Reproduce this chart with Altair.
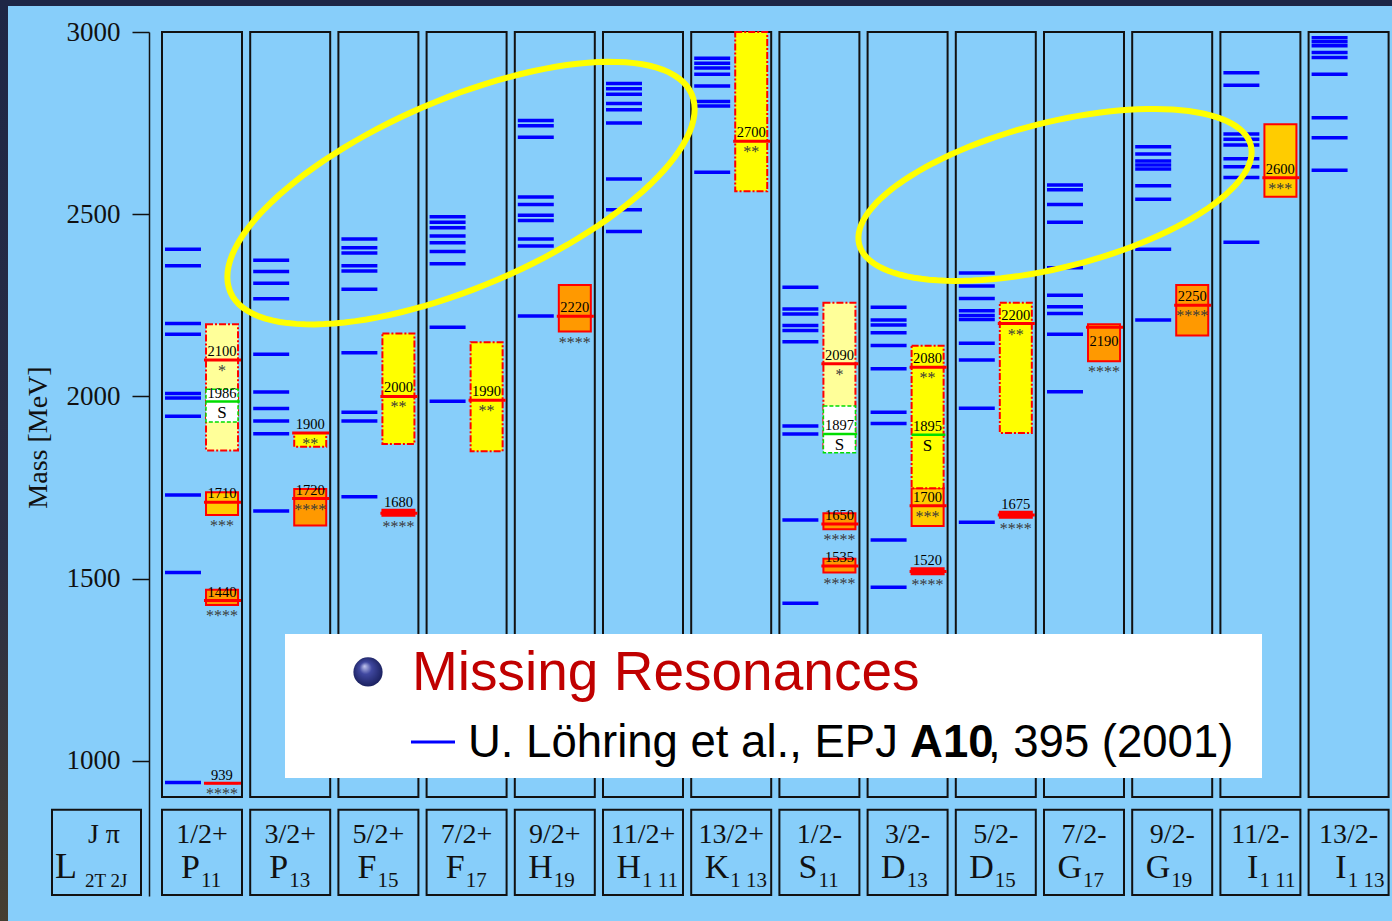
import math
import altair as alt
import pandas as pd

# ---------------------------------------------------------------- data
# Partial waves, one column each
jp_labels = ["1/2+", "3/2+", "5/2+", "7/2+", "9/2+", "11/2+", "13/2+",
             "1/2-", "3/2-", "5/2-", "7/2-", "9/2-", "11/2-", "13/2-"]
wave_letters = ["P", "P", "F", "F", "H", "H", "K", "S", "D", "D", "G", "G", "I", "I"]
wave_subs = ["11", "13", "15", "17", "19", "1 11", "1 13",
             "11", "13", "15", "17", "19", "1 11", "1 13"]

# Quark-model nucleon masses (MeV), one list per partial wave
model_masses = [
    [941, 1517, 1730, 1946, 1996, 2008, 2171, 2200, 2359, 2404],
    [1686, 1898, 1933, 1967, 2012, 2116, 2268, 2311, 2343, 2374],
    [1725, 1933, 1957, 2120, 2294, 2344, 2359, 2394, 2408, 2432],
    [1987, 2190, 2364, 2398, 2422, 2440, 2463, 2478, 2493],
    [2221, 2413, 2432, 2483, 2497, 2527, 2547, 2711, 2743, 2757],
    [2453, 2512, 2597, 2750, 2787, 2804, 2829, 2844, 2859],
    [2615, 2797, 2809, 2852, 2884, 2901, 2914, 2928],
    [1433, 1661, 1897, 1919, 2150, 2181, 2195, 2226, 2240, 2300],
    [1477, 1606, 1926, 1957, 2076, 2140, 2175, 2196, 2210, 2245],
    [1655, 1968, 2100, 2146, 2211, 2222, 2235, 2269, 2303, 2339],
    [2013, 2171, 2228, 2246, 2278, 2353, 2478, 2527, 2567, 2580],
    [2210, 2404, 2541, 2578, 2624, 2635, 2646, 2665, 2685],
    [2423, 2601, 2630, 2652, 2690, 2706, 2720, 2854, 2888],
    [2621, 2710, 2765, 2884, 2930, 2944, 2962, 2973, 2984],
]

# Observed resonances: column, nominal mass, mass range, star rating
pdg_col = [0, 0, 0, 0, 1, 1, 2, 2, 3, 4, 6, 7, 7, 7, 8, 8, 8, 9, 9, 10, 11, 12]
pdg_mass = [939, 1440, 1710, 2100, 1720, 1900, 1680, 2000, 1990, 2220, 2700,
            1535, 1650, 2090, 1520, 1700, 2080, 1675, 2200, 2190, 2250, 2600]
pdg_low = [939, 1428, 1675, 1852, 1646, 1862, 1673, 1870, 1850, 2178, 2563,
           1517, 1636, 1858, 1512, 1645, 1748, 1667, 1900, 2097, 2167, 2548]
pdg_high = [939, 1470, 1737, 2198, 1746, 1900, 1689, 2173, 2149, 2306, 3000,
            1555, 1680, 2257, 1529, 1748, 2139, 1684, 2257, 2198, 2306, 2747]
pdg_stars = [4, 4, 3, 1, 4, 2, 4, 2, 2, 4, 2, 4, 4, 1, 4, 3, 2, 4, 2, 4, 4, 3]

# Signals marked "S"
sig_col = [0, 7, 8]
sig_mass = [1986, 1897, 1895]
sig_low = [1930, 1846, None]
sig_high = [2020, 1974, None]

mass_ticks = [1000, 1500, 2000, 2500, 3000]

# ---------------------------------------------------------------- layout
W, H = 1243, 864
X_DOMAIN = [-0.1474, 13.9456]          # in units of column pitch
Y_DOMAIN = [629.6, 3000.0]             # MeV
PXM = H / (Y_DOMAIN[1] - Y_DOMAIN[0])  # pixels per MeV

COL_W = 0.907                 # column frame width (pitch units)
MODEL_X = (0.034, 0.442)      # model levels inside a column
BOX_X = (0.499, 0.862)        # resonance boxes inside a column
LINE_X = (0.476, 0.896)       # nominal-mass line
LABEL_X = 0.68
COL_BOTTOM = 901
HEAD_TOP, HEAD_BOTTOM = 866, 632.5

STAR_FILL = {4: "#FF9900", 3: "#FFCC00", 2: "#FFFF00", 1: "#FFFF99"}
STARS_BELOW_BOX = {1440, 1710, 2220, 1650, 1535, 2190}
LABEL_BELOW_LINE = {2190}

SERIF = "Liberation Serif"
SANS = "Liberation Sans"

XS = alt.Scale(domain=X_DOMAIN, nice=False, zero=False)
YS = alt.Scale(domain=Y_DOMAIN, nice=False, zero=False)
YAXIS = alt.Axis(
    values=mass_ticks, format="d", grid=False, title="Mass [MeV]",
    tickSize=17, tickWidth=1.5, tickColor="#111111",
    domainColor="#111111", domainWidth=1.5,
    labelFont=SERIF, labelFontSize=27, labelColor="#111111",
    labelPadding=12,
    titleFont=SERIF, titleFontSize=28, titleFontWeight="normal",
    titleColor="#111111", titleX=-103, titleY=405,
    titleAlign="center", titleBaseline="alphabetic")


def X(f):
    return alt.X(f"{f}:Q", scale=XS, axis=None)


def Y(f):
    return alt.Y(f"{f}:Q", scale=YS, axis=YAXIS)


# ---------------------------------------------------------------- tables
cols = pd.DataFrame({
    "x0": [k for k in range(14)],
    "x1": [k + COL_W for k in range(14)],
    "top": 3000.0,
    "bottom": float(COL_BOTTOM),
})

model = pd.DataFrame([
    {"x0": k + MODEL_X[0], "x1": k + MODEL_X[1], "m": m}
    for k, lst in enumerate(model_masses) for m in lst
])

rows = []
for c, m, lo, hi, s in zip(pdg_col, pdg_mass, pdg_low, pdg_high, pdg_stars):
    narrow = (hi - lo) < 25
    if narrow:
        label_y = hi + 3 / PXM
    elif m in LABEL_BELOW_LINE:
        label_y = m - 19 / PXM
    else:
        label_y = m + 4 / PXM
    ref = lo if (narrow or m in STARS_BELOW_BOX) else m
    rows.append({
        "x0": c + BOX_X[0], "x1": c + BOX_X[1],
        "lx0": c + LINE_X[0], "lx1": c + LINE_X[1],
        "xc": c + LABEL_X,
        "mass": m, "lo": lo, "hi": hi,
        "fill": "#FF0000" if narrow else STAR_FILL[s],
        "dashed": s <= 2,
        "label": str(m), "label_y": label_y,
        "stars": "*" * s, "star_y": ref - 11 / PXM,
    })
pdg = pd.DataFrame(rows)

sig = pd.DataFrame([
    {"x0": c + BOX_X[0], "x1": c + BOX_X[1],
     "lx0": c + BOX_X[0], "lx1": c + BOX_X[1] + 0.02, "xc": c + LABEL_X,
     "mass": m, "lo": lo if lo is not None else m,
     "hi": hi if hi is not None else m, "boxed": lo is not None,
     "label": str(m), "label_y": m + 4 / PXM, "s_y": m - 11 / PXM, "s": "S"}
    for c, m, lo, hi in zip(sig_col, sig_mass, sig_low, sig_high)
])

head = pd.DataFrame({
    "x0": list(range(14)),
    "x1": [k + COL_W for k in range(14)],
    "xc": [k + COL_W / 2 for k in range(14)],
    "xl": [k + 0.431 for k in range(14)],
    "xs": [k + 0.443 for k in range(14)],
    "jp": jp_labels, "letter": wave_letters, "sub": wave_subs,
    "top": HEAD_TOP, "bottom": HEAD_BOTTOM,
    "y_jp": 775.0, "y_letter": 679.0, "y_sub": 654.5,
})
corner = pd.DataFrame({"x0": [-1.2472], "x1": [-0.2381],
                       "top": [HEAD_TOP], "bottom": [HEAD_BOTTOM]})
corner_txt = pd.DataFrame({
    "x": [-0.658, -0.964, -0.873],
    "y": [775.0, 679.0, 654.5],
    "t": ["J π", "L", "2T 2J"],
})

# ---------------------------------------------------------------- layers
col_frames = alt.Chart(cols).mark_rect(
    fill="transparent", stroke="#111111", strokeWidth=2
).encode(x=X("x0"), x2="x1", y=Y("top"), y2="bottom")

model_lines = alt.Chart(model).mark_rule(
    color="#0000FF", strokeWidth=3.5
).encode(x=X("x0"), x2="x1", y=Y("m"))

box_style = dict(stroke="#FF0000", strokeWidth=2)
boxes_solid = alt.Chart(pdg).transform_filter("!datum.dashed").mark_rect(
    **box_style).encode(x=X("x0"), x2="x1", y=Y("lo"), y2="hi",
                        fill=alt.Fill("fill:N", scale=None))
boxes_dashed = alt.Chart(pdg).transform_filter("datum.dashed").mark_rect(
    strokeDash=[7, 2, 2, 2], **box_style).encode(
    x=X("x0"), x2="x1", y=Y("lo"), y2="hi",
    fill=alt.Fill("fill:N", scale=None))

sig_boxes = alt.Chart(sig).transform_filter("datum.boxed").mark_rect(
    fill="white", stroke="#00DD00", strokeWidth=1.5, strokeDash=[4, 2]
).encode(x=X("x0"), x2="x1", y=Y("lo"), y2="hi")

red_lines = alt.Chart(pdg).mark_rule(color="#FF0000", strokeWidth=3).encode(
    x=X("lx0"), x2="lx1", y=Y("mass"))
green_lines = alt.Chart(sig).mark_rule(color="#00DD00", strokeWidth=2.5).encode(
    x=X("lx0"), x2="lx1", y=Y("mass"))

mass_labels = alt.Chart(pdg).mark_text(
    font=SERIF, fontSize=14.5, color="black", baseline="alphabetic"
).encode(x=X("xc"), y=Y("label_y"), text="label:N")
star_labels = alt.Chart(pdg).mark_text(
    font=SERIF, fontSize=16, color="#3a3a3a", baseline="middle"
).encode(x=X("xc"), y=Y("star_y"), text="stars:N")
sig_labels = alt.Chart(sig).mark_text(
    font=SERIF, fontSize=14.5, color="black", baseline="alphabetic"
).encode(x=X("xc"), y=Y("label_y"), text="label:N")
sig_s = alt.Chart(sig).mark_text(
    font=SERIF, fontSize=17, color="black", baseline="middle"
).encode(x=X("xc"), y=Y("s_y"), text="s:N")


def ellipse_shape(ratio, n=120):
    pts = [f"{math.cos(2 * math.pi * i / n):.4f},"
           f"{ratio * math.sin(2 * math.pi * i / n):.4f}" for i in range(n)]
    return "M" + " L".join(pts) + " Z"


ellipses = []
for cx, cy, a_px, b_px, tilt in [(3.390, 2558.0, 251.0, 94.0, 23.2),
                                 (10.125, 2553.0, 202.0, 72.5, 14.2)]:
    ellipses.append(
        alt.Chart(pd.DataFrame({"x": [cx], "y": [cy]})).mark_point(
            shape=ellipse_shape(b_px / a_px), size=(2 * a_px) ** 2,
            angle=360 - tilt, filled=False, stroke="#FFFF00",
            strokeWidth=6, opacity=1
        ).encode(x=X("x"), y=Y("y"))
    )

# legend panel
panel = alt.Chart(pd.DataFrame({"x0": [1.3946], "x1": [12.4717],
                                "y0": [953.4], "y1": [1348.4]})).mark_rect(
    fill="white").encode(x=X("x0"), x2="x1", y=Y("y0"), y2="y1")
bullet = alt.Chart(pd.DataFrame({"x": [2.3356], "y": [1244.2]})).mark_circle(
    size=855, opacity=1,
    fill=alt.RadialGradient(
        gradient="radial",
        stops=[alt.GradientStop(offset=0, color="#C4C8F0"),
               alt.GradientStop(offset=0.35, color="#4048A0"),
               alt.GradientStop(offset=1, color="#121850")],
        x1=0.38, y1=0.3, r1=0.0, x2=0.5, y2=0.5, r2=0.6)
).encode(x=X("x"), y=Y("y"))
title_txt = alt.Chart(pd.DataFrame({"x": [2.8345], "y": [1194.8],
                                    "t": ["Missing Resonances"]})).mark_text(
    font=SANS, fontSize=55, color="#C00000", align="left",
    baseline="alphabetic").encode(x=X("x"), y=Y("y"), text="t:N")
ref_dash = alt.Chart(pd.DataFrame({"x0": [2.823], "x1": [3.322],
                                   "y": [1052.1]})).mark_rule(
    color="#0000FF", strokeWidth=3).encode(x=X("x0"), x2="x1", y=Y("y"))
ref_parts = pd.DataFrame({
    "x": [3.469, 8.481, 9.365],
    "y": [1011.0, 1011.0, 1011.0],
    "t": ["U. Löhring et al., EPJ", "A10", ", 395 (2001)"],
    "bold": [False, True, False],
})
ref_plain = alt.Chart(ref_parts).transform_filter("!datum.bold").mark_text(
    font=SANS, fontSize=45.5, color="black", align="left",
    baseline="alphabetic").encode(x=X("x"), y=Y("y"), text="t:N")
ref_bold = alt.Chart(ref_parts).transform_filter("datum.bold").mark_text(
    font=SANS, fontSize=45.5, fontWeight="bold", color="black", align="left",
    baseline="alphabetic").encode(x=X("x"), y=Y("y"), text="t:N")

# header row
head_boxes = alt.Chart(head).mark_rect(
    fill="transparent", stroke="#111111", strokeWidth=2
).encode(x=X("x0"), x2="x1", y=Y("top"), y2="bottom")
corner_box = alt.Chart(corner).mark_rect(
    fill="transparent", stroke="#111111", strokeWidth=2
).encode(x=X("x0"), x2="x1", y=Y("top"), y2="bottom")
head_jp = alt.Chart(head).mark_text(
    font=SERIF, fontSize=28, color="#111111", baseline="alphabetic"
).encode(x=X("xc"), y=Y("y_jp"), text="jp:N")
head_letter = alt.Chart(head).mark_text(
    font=SERIF, fontSize=34, color="#111111", align="right",
    baseline="alphabetic").encode(x=X("xl"), y=Y("y_letter"), text="letter:N")
head_sub = alt.Chart(head).mark_text(
    font=SERIF, fontSize=21, color="#111111", align="left",
    baseline="alphabetic").encode(x=X("xs"), y=Y("y_sub"), text="sub:N")
corner_jp = alt.Chart(corner_txt.iloc[[0]]).mark_text(
    font=SERIF, fontSize=28, color="#111111", baseline="alphabetic"
).encode(x=X("x"), y=Y("y"), text="t:N")
corner_l = alt.Chart(corner_txt.iloc[[1]]).mark_text(
    font=SERIF, fontSize=36, color="#111111", align="right",
    baseline="alphabetic").encode(x=X("x"), y=Y("y"), text="t:N")
corner_sub = alt.Chart(corner_txt.iloc[[2]]).mark_text(
    font=SERIF, fontSize=19, color="#111111", align="left",
    baseline="alphabetic").encode(x=X("x"), y=Y("y"), text="t:N")

# dark slide edges along the top and left
edge_src = pd.DataFrame({"k": [0]})
edge_top = alt.Chart(edge_src).mark_rect(color="#1E2645").encode(
    x=alt.value(-149), x2=alt.value(W), y=alt.value(-32), y2=alt.value(-26))
edge_left = alt.Chart(edge_src).mark_rect(
    fill=alt.LinearGradient(
        gradient="linear",
        stops=[alt.GradientStop(offset=0, color="#1E2645"),
               alt.GradientStop(offset=0.6, color="#2A2E44"),
               alt.GradientStop(offset=1, color="#463E30")],
        x1=0, y1=0, x2=0, y2=1)
).encode(x=alt.value(-149), x2=alt.value(-141), y=alt.value(-32),
         y2=alt.value(H + 25))

chart = alt.layer(
    col_frames, model_lines, boxes_solid, boxes_dashed, sig_boxes,
    red_lines, green_lines, mass_labels, star_labels, sig_labels, sig_s,
    *ellipses,
    panel, bullet, title_txt, ref_dash, ref_plain, ref_bold,
    head_boxes, corner_box, head_jp, head_letter, head_sub,
    corner_jp, corner_l, corner_sub,
    edge_top, edge_left,
).properties(
    width=W, height=H, background="#87CEFA",
    padding={"left": 149, "top": 32, "right": 0, "bottom": 25},
    autosize="none",
).configure_view(stroke=None)

chart.save("out.html", embed_options={"renderer": "svg", "actions": False})
